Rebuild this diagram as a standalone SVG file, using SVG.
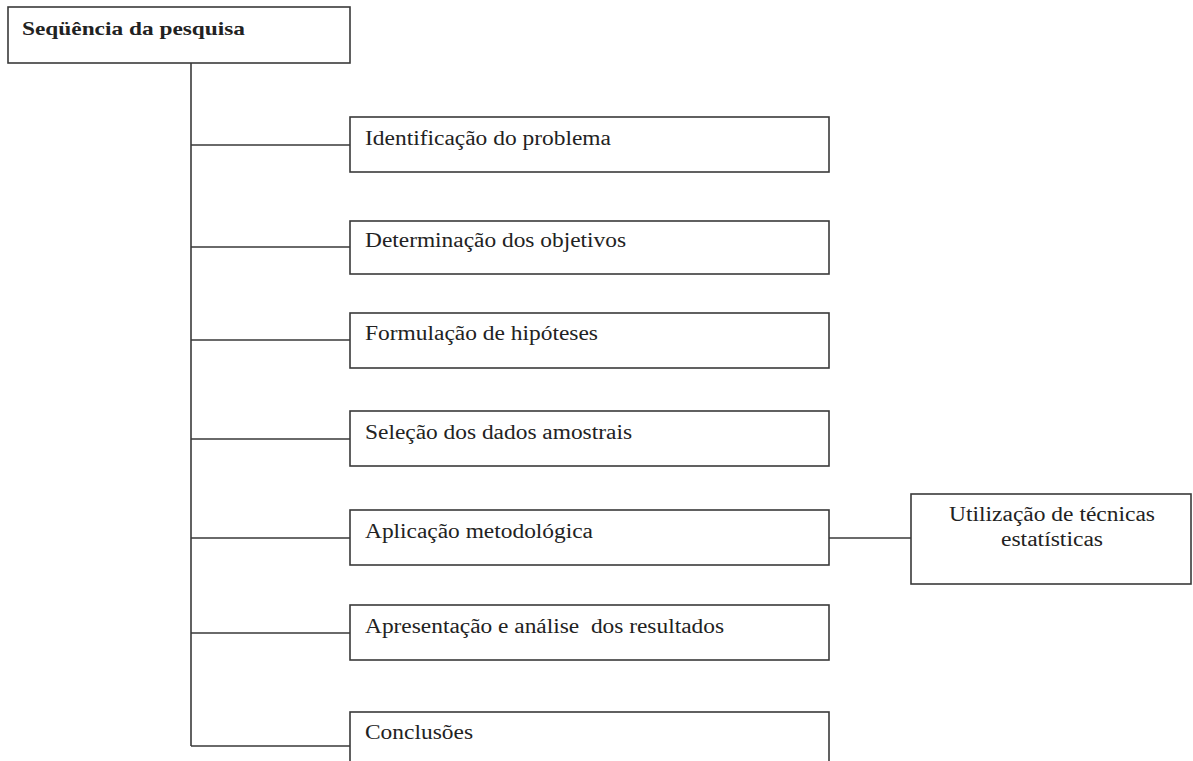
<svg xmlns="http://www.w3.org/2000/svg" width="1193" height="761" viewBox="0 0 1193 761">
<style>
.box{fill:#fff;stroke:#3a3a3a;stroke-width:1.6}
.ln{fill:none;stroke:#3a3a3a;stroke-width:1.6}
.t{font-family:"Liberation Serif","Times New Roman",serif;font-size:20px;fill:#222;white-space:pre}
.b{font-weight:bold;font-size:19px}
</style>
<rect width="1193" height="761" fill="#fff"/>
<g id="connectors">
<path class="ln" d="M191 63V746"/>
<path class="ln" d="M191 145H350M191 247H350M191 340H350M191 439H350M191 538H350M191 633H350M191 746H350"/>
<path class="ln" d="M829 538H911"/>
</g>
<g id="n0"><rect class="box" x="8" y="7" width="342" height="56"/><text class="t b" x="22" y="35" textLength="223" lengthAdjust="spacingAndGlyphs">Seqüência da pesquisa</text></g>
<g id="n1"><rect class="box" x="350" y="117" width="479" height="55"/><text class="t" x="365" y="145" textLength="246" lengthAdjust="spacingAndGlyphs">Identificação do problema</text></g>
<g id="n2"><rect class="box" x="350" y="221" width="479" height="53"/><text class="t" x="365" y="247" textLength="261" lengthAdjust="spacingAndGlyphs">Determinação dos objetivos</text></g>
<g id="n3"><rect class="box" x="350" y="313" width="479" height="55"/><text class="t" x="365" y="340" textLength="233" lengthAdjust="spacingAndGlyphs">Formulação de hipóteses</text></g>
<g id="n4"><rect class="box" x="350" y="411" width="479" height="55"/><text class="t" x="365" y="439" textLength="267" lengthAdjust="spacingAndGlyphs">Seleção dos dados amostrais</text></g>
<g id="n5"><rect class="box" x="350" y="510" width="479" height="55"/><text class="t" x="365" y="538" textLength="228" lengthAdjust="spacingAndGlyphs">Aplicação metodológica</text></g>
<g id="n6"><rect class="box" x="350" y="605" width="479" height="55"/><text class="t" x="365" y="633" textLength="359" lengthAdjust="spacingAndGlyphs">Apresentação e análise  dos resultados</text></g>
<g id="n7"><rect class="box" x="350" y="712" width="479" height="60"/><text class="t" x="365" y="739" textLength="108" lengthAdjust="spacingAndGlyphs">Conclusões</text></g>
<g id="n8"><rect class="box" x="911" y="494" width="280" height="90"/><text class="t" x="1052" y="521" text-anchor="middle" textLength="206" lengthAdjust="spacingAndGlyphs">Utilização de técnicas</text><text class="t" x="1052" y="546" text-anchor="middle" textLength="102" lengthAdjust="spacingAndGlyphs">estatísticas</text></g>
</svg>
